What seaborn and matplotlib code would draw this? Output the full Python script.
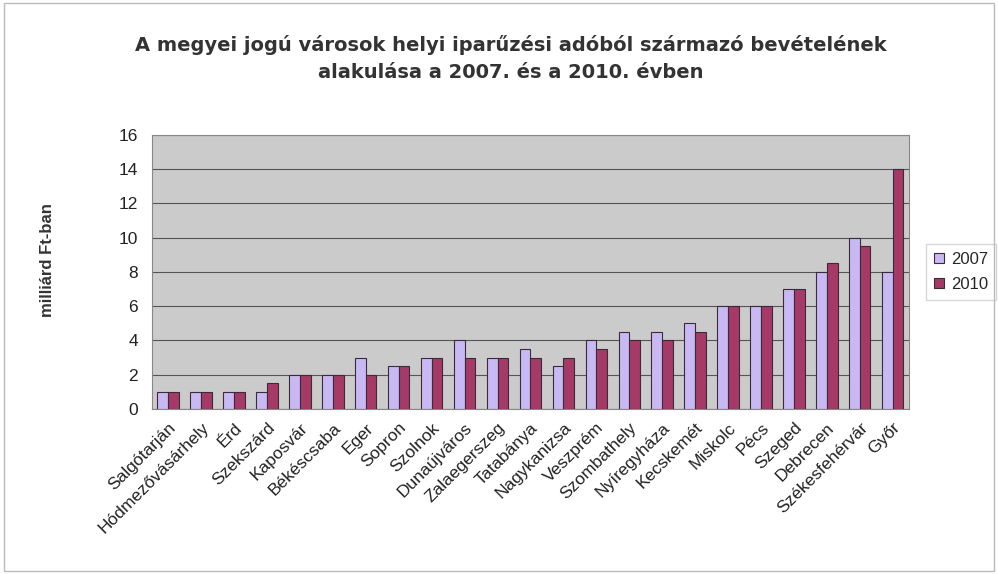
import matplotlib
matplotlib.use("Agg")
import matplotlib.pyplot as plt
import matplotlib.transforms as mtransforms
import seaborn as sns
import pandas as pd
from matplotlib.patches import Rectangle

cities = ["Salgótarján", "Hódmezővásárhely", "Érd", "Szekszárd", "Kaposvár",
          "Békéscsaba", "Eger", "Sopron", "Szolnok", "Dunaújváros",
          "Zalaegerszeg", "Tatabánya", "Nagykanizsa", "Veszprém", "Szombathely",
          "Nyíregyháza", "Kecskemét", "Miskolc", "Pécs", "Szeged", "Debrecen",
          "Székesfehérvár", "Győr"]
v2007 = [1, 1, 1, 1, 2, 2, 3, 2.5, 3, 4, 3, 3.5, 2.5, 4, 4.5, 4.5, 5, 6, 6, 7, 8, 10, 8]
v2010 = [1, 1, 1, 1.5, 2, 2, 2, 2.5, 3, 3, 3, 3, 3, 3.5, 4, 4, 4.5, 6, 6, 7, 8.5, 9.5, 14]
years = ["2007", "2010"]
yticks = [0, 2, 4, 6, 8, 10, 12, 14, 16]

df = pd.DataFrame({
    "city": cities * 2,
    "year": [years[0]] * len(cities) + [years[1]] * len(cities),
    "value": v2007 + v2010,
})

sns.set_style("white")
plt.rcParams["font.family"] = ["Liberation Sans", "DejaVu Sans"]

fig = plt.figure(figsize=(9.98, 5.74), dpi=100)
ax = fig.add_axes([0.152, 0.2875, 0.759, 0.4775])
ax.set_facecolor("#cbcbcb")

palette = {"2007": "#c8b9f4", "2010": "#a53a66"}
sns.barplot(data=df, x="city", y="value", hue="year", palette=palette,
            width=0.65, edgecolor="#3a2a3a", linewidth=0.8, saturation=1,
            ax=ax, zorder=3)

ax.set_ylim(0, 16)
ax.set_xlim(-0.5, len(cities) - 0.5)
ax.set_yticks(yticks)
ax.set_yticklabels([str(t) for t in yticks], fontsize=12.5, color="#222222")
ax.yaxis.grid(True, color="#555555", linewidth=0.8, zorder=0)
ax.set_axisbelow(True)
ax.set_xticks(range(len(cities)))
ax.set_xticklabels(cities, rotation=45, ha="right", rotation_mode="anchor",
                   fontsize=12.5, color="#222222")
shift = mtransforms.ScaledTranslation(-6 / 100, 0, fig.dpi_scale_trans)
for lbl in ax.get_xticklabels():
    lbl.set_transform(lbl.get_transform() + shift)
ax.tick_params(axis="x", length=0, pad=8)
ax.tick_params(axis="y", length=0, pad=10)
ax.set_xlabel("")
ax.set_ylabel("milliárd Ft-ban", fontsize=12, fontweight="bold",
              color="#333333")
ax.yaxis.set_label_coords(-0.128, 0.544)
for s in ax.spines.values():
    s.set_color("#888888")
    s.set_linewidth(0.8)

leg = ax.legend(title=None, loc="center left", bbox_to_anchor=(1.022, 0.5),
                fontsize=12, frameon=True, fancybox=False, edgecolor="#cccccc",
                handlelength=0.6, handleheight=0.6, handletextpad=0.4,
                borderpad=0.5, labelspacing=0.6, borderaxespad=0)

title_font = ["DejaVu Sans"]
fig.text(0.512, 0.921, "A megyei jogú városok helyi iparűzési adóból származó bevételének",
         ha="center", va="center", fontsize=14, fontweight="bold", color="#333333",
         family=title_font)
fig.text(0.512, 0.874, "alakulása a 2007. és a 2010. évben",
         ha="center", va="center", fontsize=14, fontweight="bold", color="#333333",
         family=title_font)

fig.patches.append(Rectangle((0.004, 0.006), 0.992, 0.988, transform=fig.transFigure,
                             fill=False, edgecolor="#bbbbbb", linewidth=1))

fig.savefig("out.png", dpi=100, facecolor="white")
